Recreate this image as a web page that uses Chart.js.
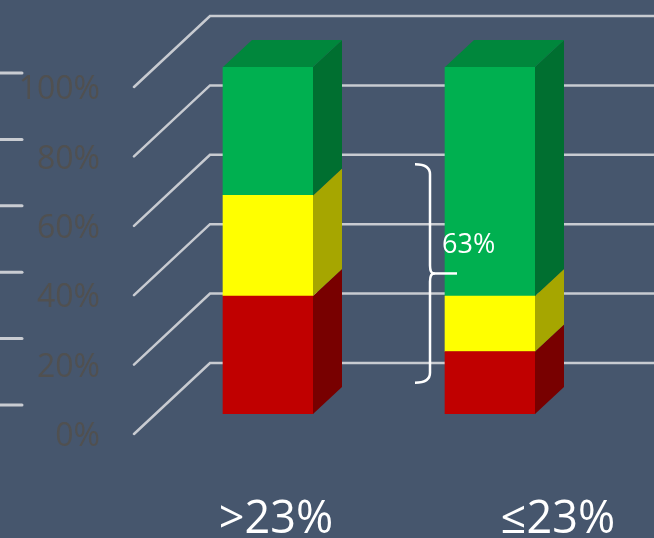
<!DOCTYPE html>
<html>
<head>
<meta charset="utf-8">
<script src="https://cdn.jsdelivr.net/npm/chart.js@4.4.1/dist/chart.umd.min.js"></script>
<style>
    html, body { margin: 0; padding: 0; background: #46566d; }
    #wrap { width: 654px; height: 538px; }
</style>
</head>
<body>
<div id="wrap"><canvas id="grafik" width="654" height="538"></canvas></div>
<script>
/* =======================================================
   DATA
======================================================= */
const categories = [">23%", "≤23%"];
const redShare = [34, 18];
const yellowShare = [29, 16];
const greenShare = [37, 66];
const yTicks = [0, 20, 40, 60, 80, 100];

// bracket beside the second bar
const bracketFrom = 9;
const bracketTo = 72;
const bracketText = "63%";

/* =======================================================
   STYLE
======================================================= */
const FONT = "'Open Sans', 'DejaVu Sans', sans-serif";
const DEPTH_X = 29, DEPTH_Y = -27;
const catLabelShift = [8, 68];

const faces = {
    red:    { front: "#c00000", side: "#780000", top: "#9a0000" },
    yellow: { front: "#ffff00", side: "#a6a600", top: "#d4d400" },
    green:  { front: "#00b050", side: "#006f30", top: "#00873c" }
};

/* =======================================================
   3D PLUGIN: floor/wall lines, side + top faces, labels
======================================================= */
const bar3d = {
    id: "bar3d",
    beforeDatasetsDraw(chart) {
        const { ctx, chartArea: area } = chart;
        const y = chart.scales.y;
        ctx.save();
        ctx.lineCap = "round";

        // short stubs at the far left
        ctx.strokeStyle = "#c9ccd2";
        ctx.lineWidth = 3;
        for (let i = 0; i < 6; i++) {
            const yy = 73 + i * 66.4;
            ctx.beginPath();
            ctx.moveTo(0, yy);
            ctx.lineTo(22, yy);
            ctx.stroke();
        }

        // diagonal floor lines, then the back wall
        ctx.strokeStyle = "#c8cbd1";
        ctx.lineWidth = 2.5;
        yTicks.forEach(v => {
            const yf = y.getPixelForValue(v);
            ctx.beginPath();
            ctx.moveTo(area.left - 23, yf + 20);
            ctx.lineTo(area.left + 53, yf - 51);
            ctx.lineTo(chart.width, yf - 51);
            ctx.stroke();
        });
        ctx.restore();
    },
    afterDatasetsDraw(chart) {
        const { ctx } = chart;
        const last = chart.data.datasets.length - 1;
        ctx.save();
        chart.data.datasets.forEach((ds, i) => {
            const meta = chart.getDatasetMeta(i);
            meta.data.forEach(el => {
                const { x, y, base, width } = el.getProps(["x", "y", "base", "width"], true);
                const l = x - width / 2, r = x + width / 2;

                ctx.fillStyle = ds.sideColor;
                ctx.beginPath();
                ctx.moveTo(r, y);
                ctx.lineTo(r + DEPTH_X, y + DEPTH_Y);
                ctx.lineTo(r + DEPTH_X, base + DEPTH_Y);
                ctx.lineTo(r, base);
                ctx.closePath();
                ctx.fill();

                if (i === last) {
                    ctx.fillStyle = ds.topColor;
                    ctx.beginPath();
                    ctx.moveTo(l, y);
                    ctx.lineTo(l + DEPTH_X, y + DEPTH_Y);
                    ctx.lineTo(r + DEPTH_X, y + DEPTH_Y);
                    ctx.lineTo(r, y);
                    ctx.closePath();
                    ctx.fill();
                }
            });
        });
        ctx.restore();
    },
    afterDraw(chart) {
        const { ctx } = chart;
        const y = chart.scales.y;
        const bars = chart.getDatasetMeta(0).data;
        ctx.save();

        // category names under the bars
        ctx.fillStyle = "#ffffff";
        ctx.font = "45px " + FONT;
        ctx.textAlign = "center";
        ctx.textBaseline = "alphabetic";
        categories.forEach((c, i) => {
            ctx.fillText(c, bars[i].x + catLabelShift[i], 533);
        });

        // curly bracket next to the second bar
        const bx = bars[1].x - bars[1].width / 2 - 15;
        const yT = y.getPixelForValue(bracketTo);
        const yB = y.getPixelForValue(bracketFrom);
        const yM = (yT + yB) / 2;
        ctx.strokeStyle = "#ffffff";
        ctx.lineWidth = 2.5;
        ctx.lineJoin = "round";
        ctx.beginPath();
        ctx.moveTo(bx - 15, yT);
        ctx.quadraticCurveTo(bx, yT, bx, yT + 10);
        ctx.lineTo(bx, yM - 8);
        ctx.quadraticCurveTo(bx, yM, bx + 4, yM);
        ctx.quadraticCurveTo(bx, yM, bx, yM + 8);
        ctx.lineTo(bx, yB - 10);
        ctx.quadraticCurveTo(bx, yB, bx - 15, yB);
        ctx.stroke();
        ctx.beginPath();
        ctx.moveTo(bx + 2, yM);
        ctx.lineTo(bx + 27, yM);
        ctx.stroke();

        ctx.font = "27px " + FONT;
        ctx.textAlign = "left";
        ctx.fillText(bracketText, bx + 12, yM - 20);
        ctx.restore();
    }
};

/* =======================================================
   CHART
======================================================= */
function makeSet(label, data, key) {
    return {
        label,
        data,
        backgroundColor: faces[key].front,
        sideColor: faces[key].side,
        topColor: faces[key].top,
        borderWidth: 0,
        barThickness: 90
    };
}

new Chart(document.getElementById("grafik").getContext("2d"), {
    type: "bar",
    data: {
        labels: categories,
        datasets: [
            makeSet("red", redShare, "red"),
            makeSet("yellow", yellowShare, "yellow"),
            makeSet("green", greenShare, "green")
        ]
    },
    options: {
        responsive: false,
        animation: false,
        layout: { padding: { top: 67, bottom: 124, left: 0, right: 53 } },
        plugins: { legend: { display: false }, tooltip: { enabled: false } },
        scales: {
            x: { stacked: true, display: false },
            y: {
                stacked: true,
                min: 0,
                max: 100,
                afterFit: s => {
                    s.width = 157;
                    s.paddingTop = 0;
                    s.paddingBottom = 0;
                },
                grid: { display: false, drawTicks: false },
                border: { display: false },
                ticks: {
                    stepSize: 20,
                    padding: 57,
                    labelOffset: 23,
                    color: "#505050",
                    font: { family: FONT, size: 32 },
                    callback: v => v + "%"
                }
            }
        }
    },
    plugins: [bar3d]
});
</script>
</body>
</html>
